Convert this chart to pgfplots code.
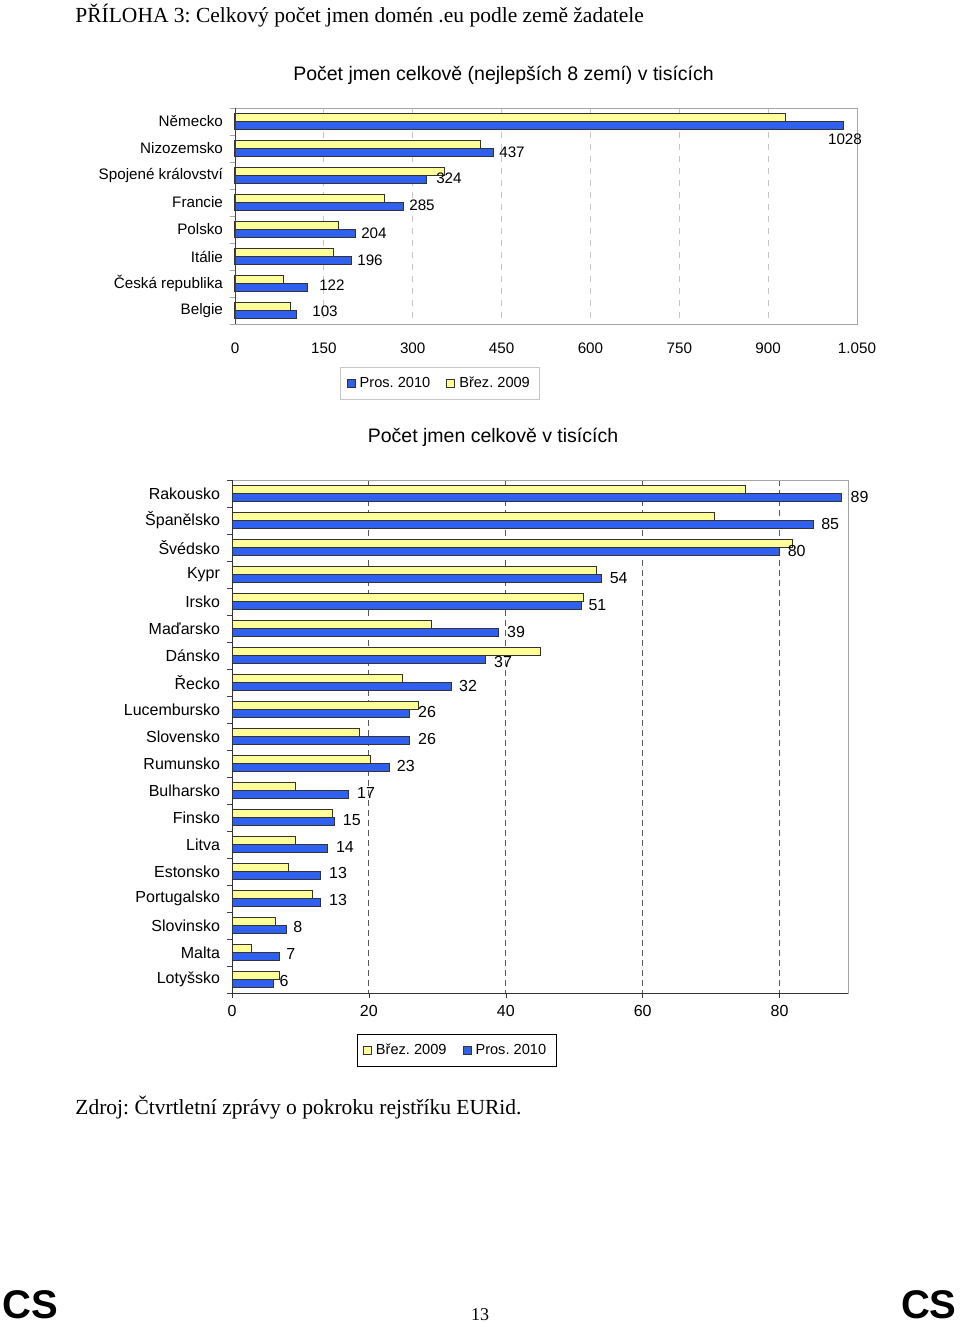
\documentclass[border=0pt]{standalone}
\usepackage{pgfplots}
\pgfplotsset{compat=1.18}
\usepackage{fontspec}
\setmainfont{Liberation Serif}
\newfontfamily\arial{Liberation Sans}
\frenchspacing

\definecolor{barblue}{RGB}{48,96,240}
\definecolor{baryellow}{RGB}{255,255,153}

\pgfplotsset{
  ybar2/.style={xbar, draw=black!80, line width=0.5pt, fill=baryellow,
    legend image code/.code={\draw[fill=baryellow, draw=black!80, line width=0.5pt] (0pt,-2pt) rectangle (4pt,2pt);}},
  bbar2/.style={xbar, draw=black!80, line width=0.5pt, fill=barblue,
    legend image code/.code={\draw[fill=barblue, draw=black!80, line width=0.5pt] (0pt,-2pt) rectangle (4pt,2pt);}},
  chartbase/.style={
    scale only axis, anchor=south west, clip=false,
    y dir=reverse,
    axis line style={draw=gray!70},
    xtick pos=bottom, ytick pos=left,
    tick align=outside,
    ytick style={draw=none},
    major tick length=2.5pt,
    /pgf/number format/assume math mode=true,
    /pgf/number format/1000 sep={.},
    tick label style={font=\arial\fontsize{#1}{9}\selectfont},
    nodes near coords style={font=\arial\fontsize{#1}{9}\selectfont},
    legend style={font=\arial\fontsize{7.3}{9}\selectfont, legend columns=2,
      /tikz/every even column/.append style={column sep=6pt},
      nodes={inner xsep=2pt},
      inner xsep=3pt, inner ysep=2.5pt},
  },
}

\begin{document}
\begin{tikzpicture}
\path[use as bounding box] (0,0) rectangle (480pt,-661.5pt);

\node[anchor=base west, inner sep=0, font=\fontsize{10.75}{12}\selectfont] at (37.5pt,-11pt)
  {PŘÍLOHA 3: Celkový počet jmen domén .eu podle země žadatele};
\node[font=\arial\fontsize{9.75}{12}\selectfont] at (251.75pt,-37.5pt)
  {Počet jmen celkově (nejlepších 8 zemí) v tisících};

% ----- top chart: 8 largest countries -----
\begin{axis}[
  chartbase=7.6,
  at={(117.5pt,-162pt)}, width=311pt, height=108pt,
  xmin=0, xmax=1050, ymin=-0.5, ymax=7.5,
  xtick={0,150,...,1050}, xtick style={draw=none},
  xticklabel style={yshift=-3.5pt},
  xmajorgrids, grid style={dashed, gray!45},
  ytick={0,...,7},
  yticklabels={Německo, Nizozemsko, Spojené království, Francie, Polsko, Itálie, Česká republika, Belgie},
  extra y ticks={-0.5,0.5,...,7.5}, extra y tick labels={},
  extra y tick style={ytick style={draw=gray!70}},
  bar width=0.28,
  legend style={at={(0.33,-0.275)}, anchor=center, draw=gray!45},
  after end axis/.append code={\draw[black!75] (axis description cs:0,0) -- (axis description cs:0,1);},
]
\addplot[bbar2, bar shift=0.14] coordinates {
  (1028,0) (437,1) (324,2) (285,3) (204,4) (196,5) (122,6) (103,7)};
\addlegendentry{Pros. 2010}
\addplot[ybar2, bar shift=-0.14] coordinates {
  (930,0) (415,1) (353,2) (252,3) (174,4) (166,5) (82,6) (94,7)};
\addlegendentry{Břez. 2009}
\addplot[forget plot, draw=none, mark=none, nodes near coords, point meta=explicit symbolic,
  nodes near coords align={anchor=center}] coordinates {
  (1029.7,0.65) [1028] (467.6,1.13) [437] (361.2,2.09) [324] (315.7,3.09) [285]
  (234.6,4.13) [204] (227.9,5.13) [196] (163.7,6.06) [122] (151.9,7.02) [103]};
\end{axis}

\node[font=\arial\fontsize{9.75}{12}\selectfont] at (246.5pt,-218.5pt)
  {Počet jmen celkově v tisících};

% ----- bottom chart: other countries -----
\begin{axis}[
  chartbase=8,
  at={(116pt,-496.5pt)}, width=308pt, height=256.5pt,
  xmin=0, xmax=90, ymin=-0.5, ymax=18.5,
  xtick={0,20,...,80}, xtick style={draw=black!80},
  xmajorgrids, grid style={densely dashed, black!65},
  ytick={0,...,18},
  yticklabels={Rakousko, Španělsko, Švédsko, Kypr, Irsko, Maďarsko, Dánsko, Řecko, Lucembursko,
    Slovensko, Rumunsko, Bulharsko, Finsko, Litva, Estonsko, Portugalsko, Slovinsko, Malta, Lotyšsko},
  extra y ticks={-0.5,0.5,...,18.5}, extra y tick labels={},
  extra y tick style={ytick style={draw=black!75}},
  bar width=0.29,
  legend style={at={(0.3645,-0.112)}, anchor=center, draw=black},
  after end axis/.append code={\draw[black!80] (axis description cs:0,1) -- (axis description cs:0,0) -- (axis description cs:1,0);},
]
\addplot[ybar2, bar shift=-0.145] coordinates {
  (75.0,0) (70.5,1) (81.9,2) (53.3,3) (51.4,4) (29.1,5) (45.1,6) (24.9,7) (27.3,8) (18.6,9)
  (20.2,10) (9.3,11) (14.7,12) (9.3,13) (8.2,14) (11.8,15) (6.3,16) (2.8,17) (7.0,18)};
\addlegendentry{Břez. 2009}
\addplot[bbar2, bar shift=0.145] coordinates {
  (89,0) (85,1) (80,2) (54,3) (51,4) (39,5) (37,6) (32,7) (26,8) (26,9)
  (23,10) (17,11) (15,12) (14,13) (13,14) (13,15) (8,16) (7,17) (6,18)};
\addlegendentry{Pros. 2010}
\addplot[forget plot, draw=none, mark=none, nodes near coords, point meta=explicit symbolic,
  nodes near coords align={anchor=center}] coordinates {
  (91.7,0.13) [89] (87.4,1.13) [85] (82.5,2.13) [80] (56.5,3.12) [54] (53.4,4.12) [51]
  (41.5,5.12) [39] (39.6,6.23) [37] (34.5,7.12) [32] (28.5,8.11) [26] (28.5,9.11) [26]
  (25.4,10.11) [23] (19.6,11.11) [17] (17.5,12.11) [15] (16.5,13.1) [14] (15.5,14.07) [13]
  (15.5,15.06) [13] (9.6,16.06) [8] (8.6,17.06) [7] (7.6,18.06) [6]};
\end{axis}

\node[anchor=base west, inner sep=0, font=\fontsize{10.75}{12}\selectfont] at (37.5pt,-557pt)
  {Zdroj: Čtvrtletní zprávy o pokroku rejstříku EURid.};
\node[anchor=base, inner sep=0, font=\fontsize{9}{11}\selectfont] at (240pt,-660pt) {13};
\node[anchor=base west, inner sep=0, font=\arial\bfseries\fontsize{20}{24}\selectfont] at (1pt,-659pt) {CS};
\node[anchor=base east, inner sep=0, font=\arial\bfseries\fontsize{20}{24}\selectfont] at (478.5pt,-659pt) {CS};
\end{tikzpicture}
\end{document}
